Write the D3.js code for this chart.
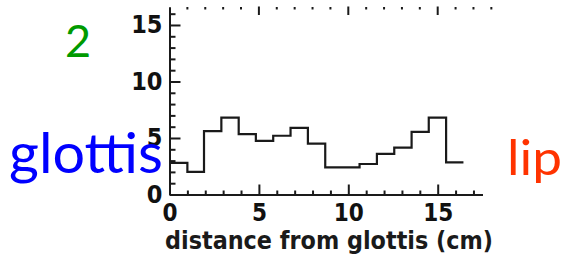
<!DOCTYPE html>
<html>
<head>
<meta charset="utf-8">
<script src="https://cdn.jsdelivr.net/npm/d3@7"></script>
<style>
  body { margin: 0; background: #fff; }
  svg { display: block; }
  .tick-label { font-family: "DejaVu Sans Condensed", "DejaVu Sans", sans-serif; font-weight: bold; font-size: 25px; fill: #111; }
</style>
</head>
<body>
<svg id="chart" width="566" height="262"></svg>
<script>
// section boundaries along the tract (cm) and area of each section
var sectionEdges = [0, 1.0, 1.93, 2.9, 3.87, 4.83, 5.8, 6.77, 7.74, 8.71, 9.67, 10.63, 11.6, 12.57, 13.54, 14.5, 15.47, 16.44];
var areaValues = [2.8, 2.0, 5.6, 6.8, 5.35, 4.75, 5.2, 5.9, 4.5, 2.4, 2.4, 2.7, 3.6, 4.15, 5.55, 6.8, 2.85];
var xMajorTicks = [0, 5, 10, 15];
var xMinorTicks = [1, 2, 3, 4, 6, 7, 8, 9, 11, 12, 13, 14, 16, 17];
var yMajorTicks = [0, 5, 10, 15];
var yMinorTicks = [1, 2, 3, 4, 6, 7, 8, 9, 11, 12, 13, 14, 16];
var topDots = [1, 2, 3, 4, 6, 7, 8, 9, 11, 12, 13, 14, 16, 17, 18];
var xTitle = "distance from glottis (cm)";

var svg = d3.select("#chart");

var x = d3.scaleLinear().domain([0, 17.5]).range([169.5, 482.4]);
var y = d3.scaleLinear().domain([0, 16.6]).range([194.5, 6.9]);

var ink = "#1a1a1a";

// y axis, ticks pointing inward
var yMinor = d3.axisLeft(y).tickValues(yMinorTicks).tickSize(-6).tickSizeOuter(0).tickFormat("");
var yMajor = d3.axisLeft(y).tickValues(yMajorTicks).tickSize(-11).tickSizeOuter(0).tickPadding(7).tickFormat(d3.format("d"));

svg.append("g").attr("transform", "translate(" + x(0) + ",0)").call(yMinor);
var gy = svg.append("g").attr("transform", "translate(" + x(0) + ",0)").call(yMajor);

// x axis, ticks pointing up
var xMinor = d3.axisBottom(x).tickValues(xMinorTicks).tickSize(-4).tickSizeOuter(0).tickFormat("");
var xMajor = d3.axisBottom(x).tickValues(xMajorTicks).tickSize(-10).tickSizeOuter(0).tickPadding(9).tickFormat(d3.format("d"));

svg.append("g").attr("transform", "translate(0," + y(0) + ")").call(xMinor);
var gx = svg.append("g").attr("transform", "translate(0," + y(0) + ")").call(xMajor);

svg.selectAll(".domain, .tick line").attr("stroke", ink).attr("stroke-width", 2);
svg.selectAll(".tick text").attr("class", "tick-label").attr("fill", ink);
gx.selectAll("text").attr("dy", "0.71em").style("font-size", "24px");

// top edge: dotted marks, longer at 5/10/15
svg.append("g").selectAll("line.dot")
  .data(topDots)
  .enter().append("line")
  .attr("x1", function(d) { return x(d); })
  .attr("x2", function(d) { return x(d); })
  .attr("y1", 7)
  .attr("y2", 9.5)
  .attr("stroke", ink)
  .attr("stroke-width", 2);

svg.append("g").selectAll("line.major")
  .data([5, 10, 15])
  .enter().append("line")
  .attr("x1", function(d) { return x(d); })
  .attr("x2", function(d) { return x(d); })
  .attr("y1", 6.5)
  .attr("y2", 15)
  .attr("stroke", ink)
  .attr("stroke-width", 2);

// area function as a step line
var pts = areaValues.map(function(v, i) { return [sectionEdges[i], v]; });
pts.push([sectionEdges[sectionEdges.length - 1], areaValues[areaValues.length - 1]]);

var line = d3.line()
  .x(function(d) { return x(d[0]); })
  .y(function(d) { return y(d[1]); })
  .curve(d3.curveStepAfter);

svg.append("path")
  .datum(pts)
  .attr("d", line)
  .attr("fill", "none")
  .attr("stroke", ink)
  .attr("stroke-width", 2.2);

// axis title
svg.append("text")
  .attr("x", 165)
  .attr("y", 249)
  .attr("textLength", 328)
  .attr("lengthAdjust", "spacingAndGlyphs")
  .style("font-family", "'DejaVu Sans Condensed', 'DejaVu Sans', sans-serif")
  .style("font-weight", "bold")
  .style("font-size", "25px")
  .attr("fill", ink)
  .text(xTitle);

// annotations
svg.append("text")
  .attr("x", 78).attr("y", 57)
  .attr("text-anchor", "middle")
  .style("font-family", "Lato, 'Open Sans', sans-serif")
  .style("font-size", "45px")
  .attr("fill", "#009a00")
  .text("2");

svg.append("text")
  .attr("x", 9).attr("y", 173)
  .attr("textLength", 154)
  .attr("lengthAdjust", "spacingAndGlyphs")
  .style("font-family", "Lato, 'Open Sans', sans-serif")
  .style("font-size", "57px")
  .attr("fill", "#0000ff")
  .text("glottis");

svg.append("text")
  .attr("x", 507).attr("y", 175)
  .attr("textLength", 55)
  .attr("lengthAdjust", "spacingAndGlyphs")
  .style("font-family", "Lato, 'Open Sans', sans-serif")
  .style("font-size", "48px")
  .attr("fill", "#ff3300")
  .text("lip");
</script>
</body>
</html>
